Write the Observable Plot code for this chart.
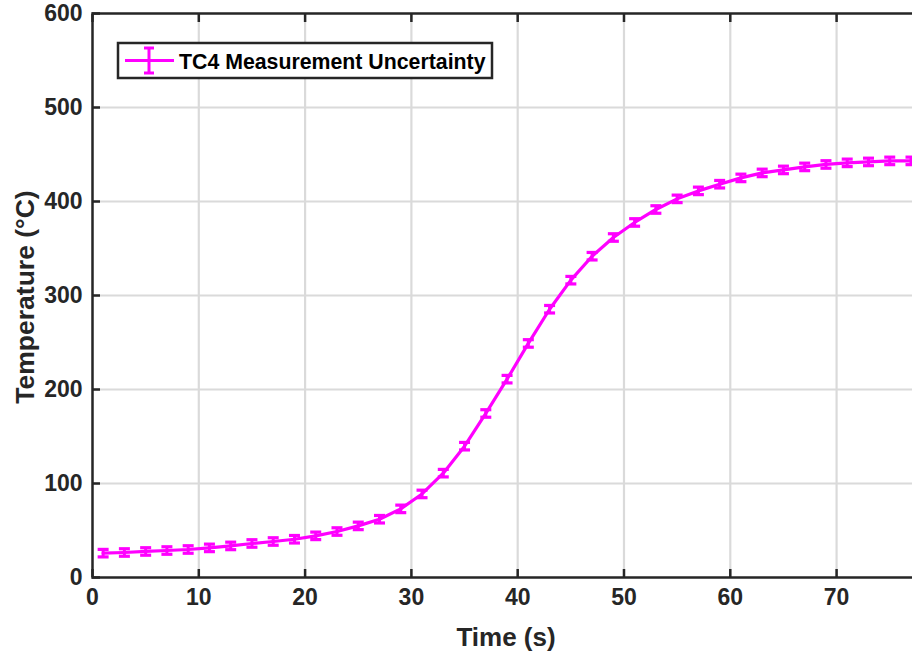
<!DOCTYPE html>
<html>
<head>
<meta charset="utf-8">
<script src="https://cdn.jsdelivr.net/npm/d3@7"></script>
<script src="https://cdn.jsdelivr.net/npm/@observablehq/plot@0.6"></script>
<style>
  html, body { margin: 0; padding: 0; background: #fff; overflow: hidden; }
  #chart { width: 912px; height: 655px; overflow: hidden; position: relative; }
  #chart svg { max-width: none !important; display: block; }
</style>
</head>
<body>
<div id="chart"></div>
<script>
// Thermocouple TC4 temperature history, sampled every 2 s
const time = [1, 3, 5, 7, 9, 11, 13, 15, 17, 19, 21, 23, 25, 27, 29, 31, 33, 35, 37, 39,
              41, 43, 45, 47, 49, 51, 53, 55, 57, 59, 61, 63, 65, 67, 69, 71, 73, 75, 77];
const temperature = [25.9, 26.6, 27.7, 28.7, 29.8, 31.5, 33.6, 36.2, 38.3, 40.7,
                     44.3, 48.9, 54.9, 62, 73, 88.9, 111, 139.7, 174.5, 211,
                     249, 285.4, 316.3, 341.8, 361.7, 377.7, 391.5, 402.8, 411.3, 418.4,
                     425.1, 430.4, 433.6, 436.8, 439.4, 441.1, 442.1, 443.2, 443.2];
const uncertainty = 4; // ± °C, same for every reading

const xTicks = [0, 10, 20, 30, 40, 50, 60, 70];
const yTicks = [0, 100, 200, 300, 400, 500, 600];
const xTitle = "Time (s)";
const yTitle = "Temperature (°C)";
const seriesName = "TC4 Measurement Uncertainty";

const data = time.map((t, i) => ({t, v: temperature[i]}));

const magenta = "#ff00ff";
const ink = "#262626";
const font = "'Liberation Sans', Arial, Helvetica, sans-serif";

// horizontal cap drawn as a dot symbol, half-width = r
const capSymbol = {
  draw(ctx, size) {
    const r = Math.sqrt(size / Math.PI);
    ctx.moveTo(-r, 0);
    ctx.lineTo(r, 0);
  }
};

const blank = () => "";

const svg = Plot.plot({
  width: 919,
  height: 655,
  marginTop: 13,
  marginBottom: 78,
  marginLeft: 92,
  marginRight: 0,
  x: {domain: [0, 77.8]},
  y: {domain: [0, 600]},
  style: {fontFamily: font, color: ink, background: "#fff", overflow: "visible", maxWidth: "none"},
  marks: [
    Plot.gridX(xTicks.slice(1), {stroke: "#dadada", strokeOpacity: 1, strokeWidth: 2.2}),
    Plot.gridY(yTicks.slice(1, -1), {stroke: "#dadada", strokeOpacity: 1, strokeWidth: 2.2}),
    Plot.line(data, {x: "t", y: "v", stroke: magenta, strokeWidth: 3.2}),
    Plot.ruleX(data, {x: "t", y1: d => d.v - uncertainty, y2: d => d.v + uncertainty,
                      stroke: magenta, strokeWidth: 3}),
    Plot.dot(data, {x: "t", y: d => d.v - uncertainty, symbol: capSymbol, r: 5.5,
                    fill: "none", stroke: magenta, strokeWidth: 3.2}),
    Plot.dot(data, {x: "t", y: d => d.v + uncertainty, symbol: capSymbol, r: 5.5,
                    fill: "none", stroke: magenta, strokeWidth: 3.2}),
    Plot.frame({stroke: ink, strokeWidth: 2.5}),
    // inward tick marks on all four sides
    Plot.axisX(xTicks, {anchor: "bottom", tickSize: -8, tickFormat: blank, label: null, stroke: ink, strokeWidth: 2.5}),
    Plot.axisX(xTicks, {anchor: "top", tickSize: -8, tickFormat: blank, label: null, stroke: ink, strokeWidth: 2.5}),
    Plot.axisY(yTicks, {anchor: "left", tickSize: -8, tickFormat: blank, label: null, stroke: ink, strokeWidth: 2.5}),
    Plot.axisY(yTicks, {anchor: "right", tickSize: -8, tickFormat: blank, label: null, stroke: ink, strokeWidth: 2.5}),
    // tick labels
    Plot.axisX(xTicks, {anchor: "bottom", tickSize: 0, tickPadding: 11, label: null,
                        fontSize: 23, fontWeight: "bold", fill: ink}),
    Plot.axisY(yTicks, {anchor: "left", tickSize: 0, tickPadding: 10, label: null,
                        fontSize: 23, fontWeight: "bold", fill: ink}),
    // x axis title
    Plot.text([xTitle], {frameAnchor: "bottom", dy: 60, text: d => d,
                         fontSize: 26, fontWeight: "bold", fill: ink, lineAnchor: "middle"})
  ]
});

const root = d3.select(svg);

// y axis title, rotated, centred on the plot area
root.append("text")
  .attr("transform", "translate(25,297) rotate(-90)")
  .attr("text-anchor", "middle").attr("dominant-baseline", "central")
  .attr("font-family", font).attr("font-weight", "bold").attr("font-size", 26.5).attr("fill", ink)
  .text(yTitle);

// legend box in the upper-left corner of the axes
const lg = root.append("g").attr("class", "legend").attr("text-anchor", "start");
lg.append("rect").attr("x", 118).attr("y", 43).attr("width", 374).attr("height", 35)
  .attr("fill", "#fff").attr("stroke", ink).attr("stroke-width", 2.5);
lg.append("line").attr("x1", 125).attr("x2", 174).attr("y1", 60.5).attr("y2", 60.5)
  .attr("stroke", magenta).attr("stroke-width", 3);
lg.append("line").attr("x1", 149).attr("x2", 149).attr("y1", 48).attr("y2", 73)
  .attr("stroke", magenta).attr("stroke-width", 3);
[48, 73].forEach(y => lg.append("line").attr("x1", 144).attr("x2", 154).attr("y1", y).attr("y2", y)
  .attr("stroke", magenta).attr("stroke-width", 3));
lg.append("text").attr("x", 179).attr("y", 68.5).text(seriesName)
  .attr("text-anchor", "start")
  .attr("font-family", font).attr("font-weight", "bold").attr("font-size", 21.3).attr("fill", "#000");

document.getElementById("chart").appendChild(svg);
</script>
</body>
</html>
